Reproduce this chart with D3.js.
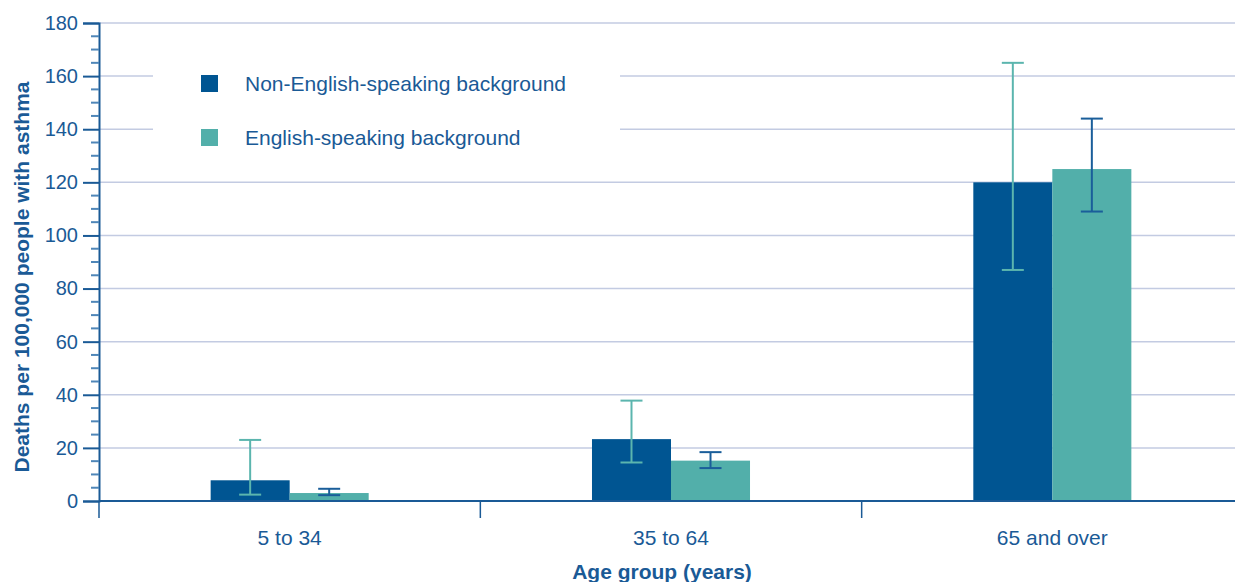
<!DOCTYPE html>
<html><head><meta charset="utf-8">
<script src="https://cdn.jsdelivr.net/npm/d3@7"></script>
<style>body{margin:0;background:#fff}svg{display:block;font-family:"Liberation Sans",Arial,sans-serif}</style>
</head><body><svg id="c" width="1235" height="582"></svg>
<script>
const categories = ["5 to 34", "35 to 64", "65 and over"];
const seriesNames = ["Non-English-speaking background", "English-speaking background"];
const nesbValues = [7.8, 23.3, 120];
const nesbLow = [2.4, 14.5, 87];
const nesbHigh = [23, 37.8, 165];
const esbValues = [3, 15.2, 125];
const esbLow = [2.2, 12.4, 109];
const esbHigh = [4.6, 18.4, 144];
const yTicks = [0, 20, 40, 60, 80, 100, 120, 140, 160, 180];

const colors = ["#005592", "#52afaa"];
const errColors = ["#5bb5ae", "#1a5e9a"];
const textCol = "#1a5a96";
const svg = d3.select("#c");
const L = 99, R = 1235, T = 23, B = 501;
const x = d3.scaleBand().domain(categories).range([L, 1243]);
const xs = d3.scaleBand().domain(seriesNames).range([0, x.bandwidth()]).paddingInner(0).paddingOuter(1.413);
const y = d3.scaleLinear().domain([0, 180]).range([B, T]);

// gridlines
svg.append("g").selectAll("line").data(yTicks.filter(d => d > 0)).join("line")
  .attr("x1", L).attr("x2", R).attr("y1", d => y(d)).attr("y2", d => y(d))
  .attr("stroke", "#c3cbe2").attr("stroke-width", 1.5);

// legend background
svg.append("rect").attr("x", 153).attr("y", 55).attr("width", 467).attr("height", 100).attr("fill", "#fff");

const series = [
  {name: seriesNames[0], vals: nesbValues, lo: nesbLow, hi: nesbHigh},
  {name: seriesNames[1], vals: esbValues, lo: esbLow, hi: esbHigh}
];
series.forEach((s, si) => {
  const g = svg.append("g");
  g.selectAll("rect").data(categories).join("rect")
    .attr("x", (c) => x(c) + xs(s.name)).attr("width", xs.bandwidth())
    .attr("y", (c, i) => y(s.vals[i])).attr("height", (c, i) => y(0) - y(s.vals[i]))
    .attr("fill", colors[si]);
});
series.forEach((s, si) => {
  const g = svg.append("g").attr("stroke", errColors[si]).attr("stroke-width", 2);
  categories.forEach((c, i) => {
    const cx = x(c) + xs(s.name) + xs.bandwidth() / 2;
    g.append("line").attr("x1", cx).attr("x2", cx).attr("y1", y(s.lo[i])).attr("y2", y(s.hi[i]));
    [s.lo[i], s.hi[i]].forEach(v => g.append("line").attr("x1", cx - 11).attr("x2", cx + 11).attr("y1", y(v)).attr("y2", y(v)));
  });
});

// y axis
const yAxis = svg.append("g").attr("transform", `translate(${L},0)`)
  .call(d3.axisLeft(y).tickValues(yTicks).tickSize(16).tickPadding(5));
yAxis.select(".domain").attr("stroke", "#1a5a96").attr("stroke-width", 2);
yAxis.selectAll(".tick line").attr("stroke", "#1a5a96").attr("stroke-width", 2);
yAxis.selectAll("text").attr("fill", textCol).attr("font-size", 20).attr("font-family", "Liberation Sans, Arial, sans-serif");
const minor = d3.range(0, 181, 5).filter(v => v % 20 !== 0);
svg.append("g").selectAll("line").data(minor).join("line")
  .attr("x1", L - 8).attr("x2", L).attr("y1", d => y(d)).attr("y2", d => y(d))
  .attr("stroke", "#4f86b8").attr("stroke-width", 2);

// x axis
svg.append("line").attr("x1", L).attr("x2", R).attr("y1", B).attr("y2", B).attr("stroke", "#1a5a96").attr("stroke-width", 2);
const seps = categories.map(c => x(c));
svg.append("g").selectAll("line").data(seps).join("line")
  .attr("x1", d => d).attr("x2", d => d).attr("y1", B).attr("y2", B + 17)
  .attr("stroke", "#1a5a96").attr("stroke-width", 1.5);
svg.append("g").selectAll("text").data(categories).join("text")
  .attr("x", c => x(c) + x.bandwidth() / 2).attr("y", 545).attr("text-anchor", "middle")
  .attr("fill", textCol).attr("font-size", 21).text(c => c);

// axis titles
svg.append("text").attr("x", 662).attr("y", 579).attr("text-anchor", "middle").attr("font-weight", "bold")
  .attr("fill", textCol).attr("font-size", 21).text("Age group (years)");
svg.append("text").attr("transform", "translate(29,277) rotate(-90)").attr("text-anchor", "middle").attr("font-weight", "bold")
  .attr("fill", textCol).attr("font-size", 21).text("Deaths per 100,000 people with asthma");

// legend
seriesNames.forEach((n, i) => {
  const ly = 83 + i * 54;
  svg.append("rect").attr("x", 201).attr("y", ly - 8).attr("width", 17).attr("height", 17).attr("fill", colors[i]);
  svg.append("text").attr("x", 245).attr("y", ly + 8).attr("fill", textCol).attr("font-size", 21).text(n);
});
</script></body></html>
